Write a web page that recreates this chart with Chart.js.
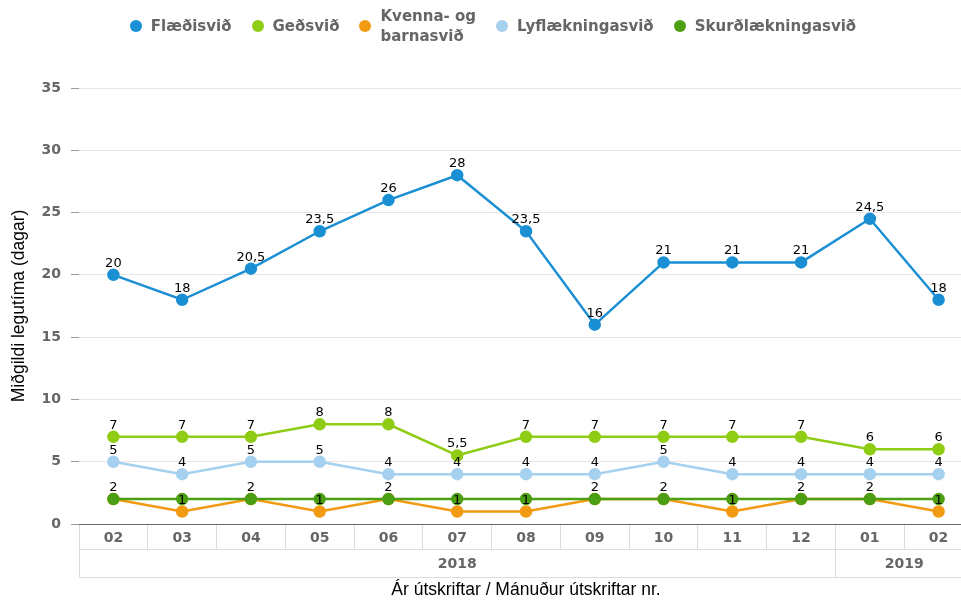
<!DOCTYPE html>
<html>
<head>
<meta charset="utf-8">
<script src="https://cdn.jsdelivr.net/npm/chart.js@4"></script>
<style>
  html, body { margin: 0; padding: 0; background: #fff; overflow: hidden; }
  #wrap { position: relative; width: 990px; height: 602px; }
  #legend {
    position: absolute; left: 0; top: 6px; width: 986px; height: 40px;
    display: flex; justify-content: center; align-items: center;
    font: bold 15px 'DejaVu Sans', sans-serif; color: #666;
  }
  .item { display: flex; align-items: center; margin: 0 10px; }
  .dot { width: 12px; height: 12px; border-radius: 50%; margin-right: 9px; flex: none; }
  .txt { line-height: 20px; }
</style>
</head>
<body>
<div id="wrap">
  <div id="legend"></div>
  <canvas id="legutimi" width="990" height="602"></canvas>
</div>
<script>
const months = ["02", "03", "04", "05", "06", "07", "08", "09", "10", "11", "12", "01", "02"];
const years = ["2018", "2019"];
const yearCenters = [5, 11.5];
const yearEdges = [-0.5, 10.5, 12.5];

const seriesNames = ["Flæðisvið", "Geðsvið", "Kvenna- og barnasvið", "Lyflækningasvið", "Skurðlækningasvið"];
const flaedisvid = [20, 18, 20.5, 23.5, 26, 28, 23.5, 16, 21, 21, 21, 24.5, 18];
const gedsvid = [7, 7, 7, 8, 8, 5.5, 7, 7, 7, 7, 7, 6, 6];
const kvennaBarnasvid = [2, 1, 2, 1, 2, 1, 1, 2, 2, 1, 2, 2, 1];
const lyflaekningasvid = [5, 4, 5, 5, 4, 4, 4, 4, 5, 4, 4, 4, 4];
const skurdlaekningasvid = [2, 2, 2, 2, 2, 2, 2, 2, 2, 2, 2, 2, 2];
const colors = ["#1a8fd3", "#8fcc14", "#f29a12", "#a5d0ee", "#4c9e12"];
const showLabels = [true, true, true, true, false];

const allSeries = [flaedisvid, gedsvid, kvennaBarnasvid, lyflaekningasvid, skurdlaekningasvid];

const gray = "#666666";
const bold14 = { family: "'DejaVu Sans', sans-serif", size: 14, weight: "bold" };
const titleFont = { family: "'Liberation Sans', Arial, sans-serif", size: 17.5 };

// draws the value above each point, like the original data labels
const valueLabels = {
  id: "valueLabels",
  afterDatasetsDraw(chart) {
    const ctx = chart.ctx;
    ctx.save();
    ctx.font = "13px 'DejaVu Sans', sans-serif";
    ctx.fillStyle = "#000";
    ctx.textAlign = "center";
    ctx.textBaseline = "alphabetic";
    chart.data.datasets.forEach((ds, i) => {
      if (!showLabels[i]) return;
      const meta = chart.getDatasetMeta(i);
      meta.data.forEach((pt, j) => {
        const txt = String(ds.data[j]).replace(".", ",");
        ctx.fillText(txt, pt.x, pt.y - 8);
      });
    });
    ctx.restore();
  },
};

// html legend so the two-line entry can sit centred like the original
const htmlLegend = {
  id: "htmlLegend",
  afterUpdate(chart) {
    const box = document.getElementById("legend");
    box.innerHTML = "";
    chart.data.datasets.forEach((ds) => {
      const item = document.createElement("div");
      item.className = "item";
      const dot = document.createElement("span");
      dot.className = "dot";
      dot.style.background = ds.borderColor;
      const txt = document.createElement("span");
      txt.className = "txt";
      txt.innerHTML = ds.label === "Kvenna- og barnasvið" ? "Kvenna- og<br>barnasvið" : ds.label;
      item.appendChild(dot);
      item.appendChild(txt);
      box.appendChild(item);
    });
  },
};

const datasets = allSeries.map((data, i) => ({
  label: seriesNames[i],
  data: data,
  borderColor: colors[i],
  backgroundColor: colors[i],
  pointBackgroundColor: colors[i],
  pointBorderColor: colors[i],
  borderWidth: 2.5,
  pointRadius: 5,
  pointHoverRadius: 5,
  tension: 0,
  order: 5 - i, // last series on top
}));

const ctx = document.getElementById("legutimi").getContext("2d");
new Chart(ctx, {
  type: "line",
  data: { labels: months, datasets: datasets },
  plugins: [valueLabels, htmlLegend],
  options: {
    responsive: false,
    animation: false,
    events: [],
    layout: { padding: { left: 0, right: 17, top: 88, bottom: 0 } },
    plugins: {
      tooltip: { enabled: false },
      legend: { display: false },
    },
    scales: {
      y: {
        min: 0,
        max: 35,
        ticks: { stepSize: 5, color: gray, font: bold14, padding: 10 },
        grid: { color: "#e6e6e6", tickColor: "#999999", tickLength: 8 },
        border: { display: false },
        title: {
          display: true,
          text: "Miðgildi legutíma (dagar)",
          color: "#000",
          font: titleFont,
          padding: { top: 9, bottom: 4 },
        },
        afterFit(scale) { scale.width = 79; },
      },
      x: {
        position: "bottom",
        weight: 0,
        offset: true,
        ticks: { color: gray, font: bold14, padding: -19, autoSkip: false, maxRotation: 0 },
        grid: { offset: true, drawOnChartArea: false, tickLength: 25, color: "#dddddd", tickColor: "#dddddd" },
        border: { color: "#666666", width: 1 },
        afterFit(scale) { scale.height = 25; },
      },
      x2: {
        type: "linear",
        position: "bottom",
        weight: 1,
        min: -0.5,
        max: 12.5,
        afterBuildTicks(scale) {
          const vals = yearEdges.concat(yearCenters).sort((a, b) => a - b);
          scale.ticks = vals.map((v) => ({ value: v }));
        },
        ticks: {
          autoSkip: false,
          maxRotation: 0,
          color: gray,
          font: bold14,
          padding: -21,
          callback(value) {
            const k = yearCenters.indexOf(value);
            return k >= 0 ? years[k] : "";
          },
        },
        grid: {
          drawOnChartArea: false,
          tickLength: 28,
          color: (c) => (c.tick && yearCenters.includes(c.tick.value) ? "rgba(0,0,0,0)" : "#dddddd"),
          tickColor: (c) => (c.tick && yearCenters.includes(c.tick.value) ? "rgba(0,0,0,0)" : "#dddddd"),
        },
        border: { color: "#dddddd", width: 1 },
        afterFit(scale) { scale.height = 28; },
      },
      x3: {
        type: "linear",
        position: "bottom",
        weight: 2,
        min: 0,
        max: 1,
        ticks: { display: false },
        grid: { display: false, drawTicks: false },
        border: { color: "#dddddd", width: 1 },
        title: {
          display: true,
          text: "Ár útskriftar / Mánuður útskriftar nr.",
          color: "#000",
          font: titleFont,
          padding: { top: 2, bottom: 1 },
        },
        afterFit(scale) { scale.height = 25; },
      },
    },
  },
});
</script>
</body>
</html>
